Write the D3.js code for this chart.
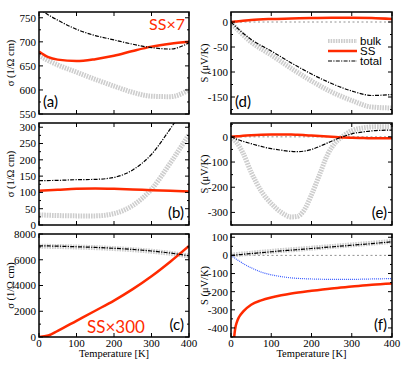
<!DOCTYPE html>
<html>
<head>
<meta charset="utf-8">
<script src="https://cdn.jsdelivr.net/npm/d3@7"></script>
<style>
  body { margin: 0; background: #fff; }
  svg { display: block; }
  .tk { font-family: "Liberation Serif", "Times New Roman", serif; font-size: 11px; fill: #000; }
  .ax { font-family: "Liberation Serif", "Times New Roman", serif; font-size: 10.5px; fill: #000; }
  .pl { font-family: Lato, "Open Sans", sans-serif; font-size: 15px; fill: #000; }
  .lg { font-family: "Liberation Sans", Arial, sans-serif; font-size: 11.5px; fill: #000; }
</style>
</head>
<body>
<svg width="407" height="369"></svg>
<script>
const tempTicks = [0, 100, 200, 300, 400];

// (a) conductivity, SS shown x7
const aT = [0, 25, 50, 100, 150, 200, 250, 300, 350, 400];
const aBulk = [672, 661, 652, 637, 622, 608, 595, 587, 586, 600];
const aSS = [680, 668, 663, 660, 664, 671, 681, 690, 696, 700];
const aTotal = [769, 756, 745, 726, 713, 704, 695, 688, 685, 698];

// (b) conductivity
const bT = [0, 50, 100, 150, 200, 250, 300, 350, 400];
const bBulk = [31, 29, 28, 28, 35, 60, 110, 190, 278];
const bSS = [105, 108, 111, 112, 111, 109, 107, 105, 103];
const bTotal = [136, 137, 139, 140, 146, 169, 217, 295, 381];

// (c) conductivity, SS shown x300
const cT = [0, 25, 50, 100, 150, 200, 250, 300, 350, 400];
const cBulk = [7050, 7040, 7030, 6990, 6940, 6870, 6780, 6660, 6500, 6300];
const cSS = [0, 120, 480, 1260, 2040, 2830, 3720, 4720, 5850, 7080];
const cTotal = [7080, 7070, 7055, 7010, 6960, 6890, 6800, 6680, 6520, 6310];

// (d) Seebeck
const dT = [0, 10, 25, 50, 100, 150, 200, 250, 300, 350, 400];
const dBulk = [0, -10, -22, -40, -66, -93, -118, -140, -157, -170, -172];
const dSS = [0, 1, 2, 4, 6, 7, 8, 8.5, 8.5, 8, 6];
const dTotal = [0, -8, -19, -35, -58, -82, -104, -123, -138, -147, -145];

// (e) Seebeck
const eT = [0, 15, 30, 50, 75, 100, 125, 150, 165, 180, 200, 220, 240, 260, 280, 300, 330, 360, 400];
const eBulk = [0, -25, -65, -140, -215, -265, -300, -318, -316, -295, -230, -150, -70, -22, 5, 24, 36, 40, 40];
const eSS = [0, 2, 4, 6, 8, 9, 9, 9, 8, 7, 5, 3, 1, -1, -3, -4, -5, -6, -6];
const eTotal = [0, -10, -18, -27, -38, -47, -53, -58, -59, -57, -50, -38, -24, -10, 2, 12, 20, 25, 27];

// (f) Seebeck
const fT = [0, 5, 10, 15, 20, 30, 50, 75, 100, 125, 150, 200, 250, 300, 350, 400];
const fBulk = [2, 3, 4, 5, 6, 8, 12, 17, 22, 27, 31, 40, 49, 58, 67, 77];
const fSS = [null, -520, -410, -365, -340, -310, -272, -248, -232, -220, -210, -195, -182, -172, -162, -155];
const fTotal = [0, 1, 2, 3, 4, 6, 10, 15, 20, 25, 29, 38, 47, 56, 65, 75];
const fBlue = [0, -8, -15, -24, -30, -45, -68, -92, -107, -117, -124, -130, -132, -132, -130, -128];

const legendNames = ['bulk', 'SS', 'total'];

const RED = '#ff2a00';
const styles = {
  bulk: { stroke: '#cdcdcd', width: 5, dash: '1.6,1' },
  ss: { stroke: RED, width: 2.5, dash: null },
  total: { stroke: '#000', width: 1.2, dash: '4,1.3,1.2,1.3' },
  blue: { stroke: '#3a5cff', width: 1.2, dash: '1,1' },
  zero: { stroke: '#777', width: 0.8, dash: '2,2.5' }
};

const cols = [{ x0: 39, x1: 189 }, { x0: 231, x1: 392 }];
const rows = [{ y0: 12, y1: 114 }, { y0: 123, y1: 225 }, { y0: 234, y1: 337 }];

const panels = [
  { c: 0, r: 0, dom: [550, 762], ticks: d3.range(550, 751, 50), minor: 25, name: '(a)', lab: 'left',
    T: aT, series: [['bulk', aBulk], ['ss', aSS], ['total', aTotal]] },
  { c: 0, r: 1, dom: [0, 313], ticks: d3.range(0, 301, 50), minor: 25, name: '(b)', lab: 'right',
    T: bT, series: [['bulk', bBulk], ['ss', bSS], ['total', bTotal]] },
  { c: 0, r: 2, dom: [0, 8000], ticks: d3.range(0, 8001, 2000), minor: 1000, name: '(c)', lab: 'right',
    T: cT, series: [['bulk', cBulk], ['ss', cSS], ['total', cTotal]], xlab: true },
  { c: 1, r: 0, dom: [-184, 20], ticks: [-150, -100, -50, 0], minor: 25, name: '(d)', lab: 'left', zero: true,
    T: dT, series: [['bulk', dBulk], ['ss', dSS], ['total', dTotal]] },
  { c: 1, r: 1, dom: [-350, 55], ticks: [-300, -200, -100, 0], minor: 50, name: '(e)', lab: 'right', zero: true,
    T: eT, series: [['bulk', eBulk], ['ss', eSS], ['total', eTotal]] },
  { c: 1, r: 2, dom: [-450, 118], ticks: d3.range(-400, 101, 100), minor: 50, name: '(f)', lab: 'right', zero: true,
    T: fT, series: [['bulk', fBulk], ['blue', fBlue], ['ss', fSS], ['total', fTotal]], xlab: true }
];

const svg = d3.select('svg');

panels.forEach((p, i) => {
  const { x0, x1 } = cols[p.c];
  const { y0, y1 } = rows[p.r];
  const x = d3.scaleLinear().domain([0, 400]).range([x0, x1]);
  const y = d3.scaleLinear().domain(p.dom).range([y1, y0]);
  const g = svg.append('g');

  g.append('clipPath').attr('id', 'clip' + i)
    .append('rect').attr('x', x0).attr('y', y0).attr('width', x1 - x0).attr('height', y1 - y0);

  const plot = g.append('g').attr('clip-path', `url(#clip${i})`);

  if (p.zero) {
    plot.append('line')
      .attr('x1', x0).attr('x2', x1).attr('y1', y(0)).attr('y2', y(0))
      .attr('stroke', styles.zero.stroke).attr('stroke-width', styles.zero.width)
      .attr('stroke-dasharray', styles.zero.dash);
  }

  p.series.forEach(([key, vals]) => {
    const s = styles[key];
    const line = d3.line()
      .defined((d, j) => vals[j] != null)
      .x((d, j) => x(p.T[j]))
      .y((d, j) => y(vals[j]))
      .curve(d3.curveMonotoneX);
    plot.append('path')
      .attr('d', line(vals))
      .attr('fill', 'none')
      .attr('stroke', s.stroke)
      .attr('stroke-width', s.width)
      .attr('stroke-dasharray', s.dash);
  });

  // ticks, inward on all four sides
  const yMinor = d3.range(Math.ceil(p.dom[0] / p.minor) * p.minor, p.dom[1] + 0.01, p.minor);
  yMinor.forEach(v => {
    const major = p.ticks.includes(v);
    const len = major ? 4 : 2;
    g.append('line').attr('x1', x0).attr('x2', x0 + len).attr('y1', y(v)).attr('y2', y(v)).attr('stroke', '#000');
    g.append('line').attr('x1', x1).attr('x2', x1 - len).attr('y1', y(v)).attr('y2', y(v)).attr('stroke', '#000');
  });
  tempTicks.forEach(t => {
    g.append('line').attr('x1', x(t)).attr('x2', x(t)).attr('y1', y1).attr('y2', y1 - 4).attr('stroke', '#000');
    g.append('line').attr('x1', x(t)).attr('x2', x(t)).attr('y1', y0).attr('y2', y0 + 4).attr('stroke', '#000');
  });

  g.append('rect')
    .attr('x', x0).attr('y', y0).attr('width', x1 - x0).attr('height', y1 - y0)
    .attr('fill', 'none').attr('stroke', '#000').attr('stroke-width', 1.5);

  g.selectAll('text.yl').data(p.ticks).enter().append('text')
    .attr('class', 'tk')
    .attr('x', x0 - 3).attr('y', d => y(d)).attr('dy', '0.35em')
    .attr('text-anchor', 'end')
    .text(d => d);

  if (p.xlab) {
    g.selectAll('text.xl').data(tempTicks).enter().append('text')
      .attr('class', 'tk')
      .attr('x', d => x(d)).attr('y', y1 + 10)
      .attr('text-anchor', 'middle')
      .text(d => d);
    g.append('text').attr('class', 'ax')
      .attr('x', (x0 + x1) / 2).attr('y', y1 + 20)
      .attr('text-anchor', 'middle')
      .text('Temperature [K]');
  }

  g.append('text').attr('class', 'ax')
    .attr('transform', `translate(${p.c === 0 ? 14 : 208},${(y0 + y1) / 2}) rotate(-90)`)
    .attr('text-anchor', 'middle')
    .text(p.c === 0 ? 'σ (1/Ω cm)' : 'S (μV/K)');

  g.append('text').attr('class', 'pl')
    .attr('x', p.lab === 'left' ? x0 + 4 : x1 - 5)
    .attr('y', y1 - 7)
    .attr('text-anchor', p.lab === 'left' ? 'start' : 'end')
    .text(p.name);
});

// SS scale notes
svg.append('text').attr('class', 'pl')
  .attr('x', 185).attr('y', 30).attr('text-anchor', 'end')
  .style('fill', RED).style('font-size', '16px')
  .text('SS×7');
svg.append('text').attr('class', 'pl')
  .attr('x', 87).attr('y', 333)
  .style('fill', RED).style('font-size', '17px')
  .text('SS×300');

// legend in (d)
const lg = svg.append('g');
['bulk', 'ss', 'total'].forEach((k, j) => {
  const s = styles[k];
  const yy = 41 + j * 10;
  lg.append('line').attr('x1', 328).attr('x2', 357).attr('y1', yy).attr('y2', yy)
    .attr('stroke', s.stroke).attr('stroke-width', k === 'bulk' ? 4 : s.width)
    .attr('stroke-dasharray', s.dash);
  lg.append('text').attr('class', 'lg').attr('x', 360).attr('y', yy).attr('dy', '0.35em')
    .text(legendNames[j]);
});
</script>
</body>
</html>
